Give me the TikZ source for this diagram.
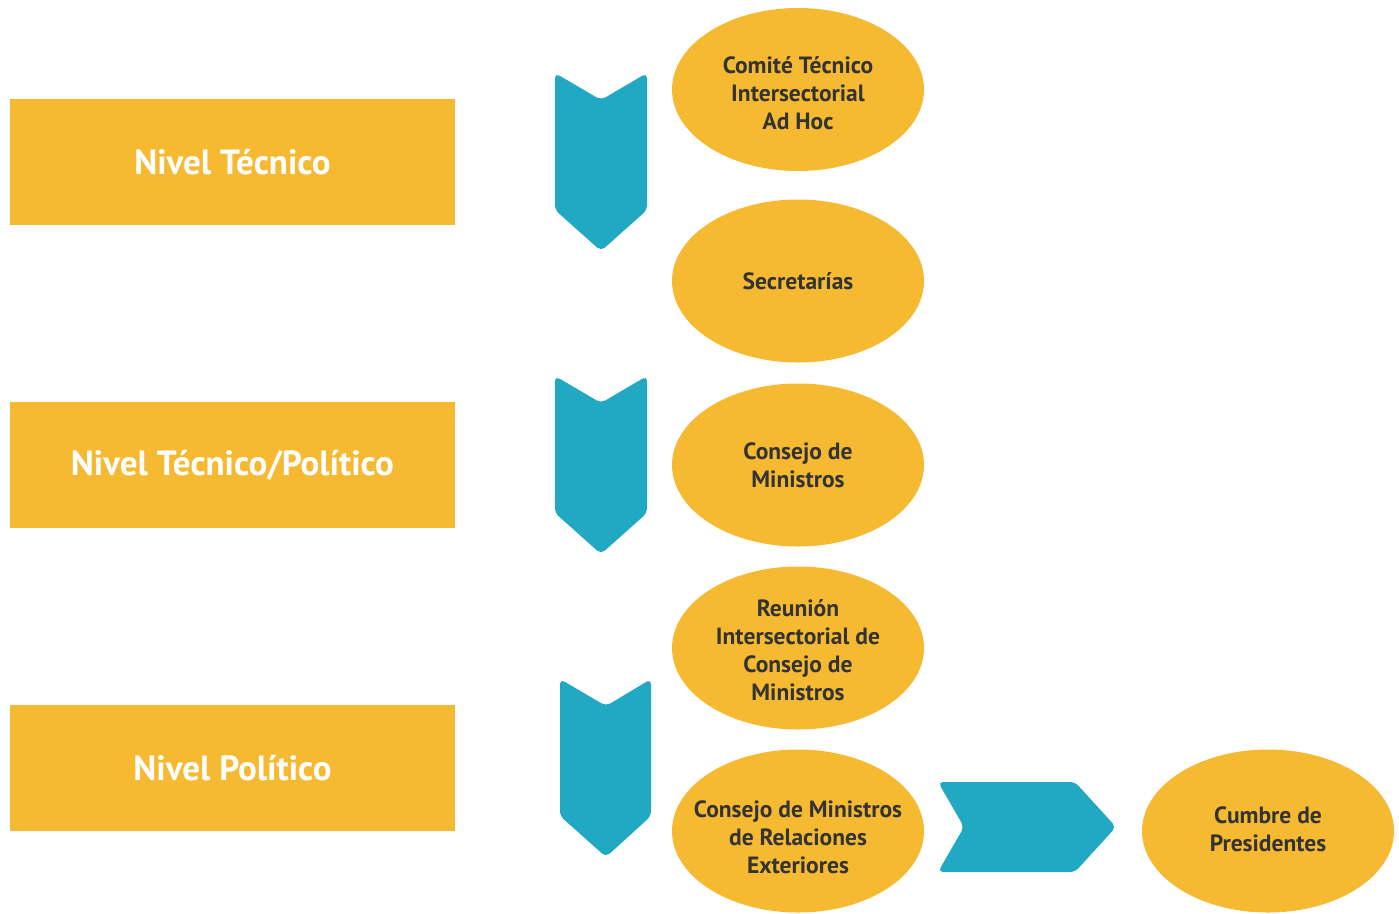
\documentclass[tikz,border=0pt]{standalone}
\usepackage{fontspec}
\setmainfont{PT Sans}
\usetikzlibrary{shapes.geometric}
\definecolor{gold}{HTML}{F6BA32}
\definecolor{teal}{HTML}{21A9C3}
\definecolor{ink}{HTML}{333333}
\tikzset{
  level/.style={fill=gold, minimum width=445pt, minimum height=126pt, inner sep=0pt,
    text=white, font=\bfseries\fontsize{35}{40}\selectfont},
  organ/.style={ellipse, fill=gold, minimum width=252pt, minimum height=163pt, inner sep=-40pt,
    text=ink, align=center, font=\bfseries\fontsize{23.5}{28}\selectfont},
  organtext/.style={text=ink, align=center, font=\bfseries\fontsize{23.5}{28}\selectfont},
  chev/.style={fill=teal, rounded corners=5pt}
}
\begin{document}
\begin{tikzpicture}[x=1pt,y=-1pt]
\useasboundingbox (0,0) rectangle (1399,913);
% level boxes
\node[level] (tec) at (232.5,162) {Nivel Técnico};
\node[level] (tecpol) at (232.5,465) {Nivel Técnico/Político};
\node[level] (pol) at (232.5,768) {Nivel Político};
% ellipses
\node[organ] (comite) at (798,89.5) {};
\node[organtext] (comitetext) at (798,93) {Comité Técnico\\Intersectorial\\Ad Hoc};
\node[organ] (secr) at (798,281) {Secretarías};
\node[organ] (consejo) at (798,465) {Consejo de\\Ministros};
\node[organ] (reunion) at (798,648) {};
\node[organtext] (reuniontext) at (798,650) {Reunión\\Intersectorial de\\Consejo de\\Ministros};
\node[organ] (rree) at (798,831) {};
\node[organtext] (rreetext) at (798,837) {Consejo de Ministros\\de Relaciones\\Exteriores};
\node[organ] (cumbre) at (1268,831) {};
\node[organtext] (cumbretext) at (1268,829) {Cumbre de\\Presidentes};
% down chevrons
\fill[chev] (555,73) -- (601,100) -- (647,73) -- (647,210) -- (601,251) -- (555,210) -- cycle;
\fill[chev] (555,376) -- (601,403) -- (647,376) -- (647,513) -- (601,554) -- (555,513) -- cycle;
\fill[chev] (560,679) -- (606,706) -- (651,679) -- (651,816) -- (606,857) -- (560,816) -- cycle;
% right chevron
\fill[chev] (938,782) -- (1075,782) -- (1116,827) -- (1075,872) -- (938,872) -- (964,827) -- cycle;
\end{tikzpicture}
\end{document}
